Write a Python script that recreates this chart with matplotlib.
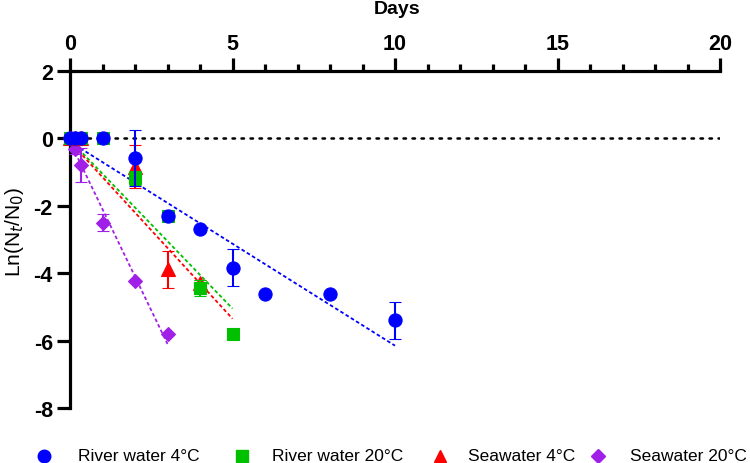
import numpy as np
import matplotlib
matplotlib.use("Agg")
import matplotlib.pyplot as plt
from matplotlib.lines import Line2D

plt.rcParams['font.family'] = ['Liberation Sans', 'DejaVu Sans']
plt.rcParams['axes.unicode_minus'] = False

# ---------------- data ----------------
series_names = ["River water 4°C", "River water 20°C", "Seawater 4°C", "Seawater 20°C"]

river4_days = [0, 0.167, 0.333, 1, 2, 3, 4, 5, 6, 8, 10]
river4_ln   = [0, 0, 0, 0, -0.57, -2.30, -2.70, -3.84, -4.63, -4.63, -5.40]
river4_sd   = [0, 0, 0, 0, 0.83, 0, 0, 0.55, 0, 0, 0.55]

river20_days = [0, 0.167, 0.333, 1, 2, 3, 4, 5]
river20_ln   = [0, 0, 0, 0, -1.17, -2.30, -4.44, -5.80]
river20_sd   = [0, 0, 0, 0, 0.20, 0, 0.25, 0]

sea4_days = [0, 0.167, 0.333, 2, 3, 4]
sea4_ln   = [0, 0, 0, -0.84, -3.88, -4.30]
sea4_sd   = [0, 0, 0, 0.64, 0.55, 0.10]

sea20_days = [0, 0.167, 0.333, 1, 2, 3]
sea20_ln   = [0, -0.30, -0.78, -2.50, -4.24, -5.80]
sea20_sd   = [0, 0.15, 0.50, 0.26, 0, 0]

# linear fits (intercept, slope, last day)
fit_intercept = [-0.10, -0.05, -0.10, -0.10]
fit_slope     = [-0.605, -1.00, -1.05, -2.00]
fit_end       = [10, 5, 5, 3]

colors  = ['#0000FF', '#00C000', '#FF0000', '#A020E8']
markers = ['o', 's', '^', 'D']
msizes  = [9.5, 9, 9.5, 7.5]
zorders = [6, 5, 4, 3]

x_ticks = [0, 5, 10, 15, 20]
y_ticks = [-8, -6, -4, -2, 0, 2]

# legend key layout (pixels)
legend_marker_x = [44, 242, 440, 598]
legend_text_x = [78, 272, 468, 630]
legend_y = 457

# ---------------- figure ----------------
W, H = 750, 464
fig = plt.figure(figsize=(7.5, 4.64), dpi=100)
ax = fig.add_axes([70/W, 1-409/H, (720-70)/W, (409-72)/H])

ax.set_xlim(0, 20)
ax.set_ylim(-8, 2)

# zero reference line
ax.plot([0, 20], [0, 0], color='black', lw=1.8, linestyle=(0, (1, 2.6)),
        dash_capstyle='round', zorder=1)

all_x = [river4_days, river20_days, sea4_days, sea20_days]
all_y = [river4_ln, river20_ln, sea4_ln, sea20_ln]
all_e = [river4_sd, river20_sd, sea4_sd, sea20_sd]

for i in range(4):
    xs = np.array([0, fit_end[i]])
    ax.plot(xs, fit_intercept[i] + fit_slope[i] * xs, color=colors[i], lw=1.3,
            linestyle=(0, (2, 1.4)), zorder=2)

for i in range(4):
    ax.errorbar(all_x[i], all_y[i], yerr=all_e[i], fmt=markers[i], color=colors[i],
                markersize=msizes[i], markeredgewidth=0.8, elinewidth=1.5,
                capsize=4.5, capthick=1.5, zorder=zorders[i],
                clip_on=False)

# axes styling
for s in ['bottom', 'right']:
    ax.spines[s].set_visible(False)
for s in ['top', 'left']:
    ax.spines[s].set_linewidth(2.3)
ax.xaxis.tick_top()
ax.set_xticks(x_ticks)
ax.set_xticks(np.arange(0, 21, 1), minor=True)
ax.set_yticks(y_ticks)
ax.tick_params(axis='both', which='major', length=9.4, width=2.3, pad=3,
               labelsize=15.5, direction='out')
ax.tick_params(axis='x', which='minor', length=5.4, width=2.3, direction='out')
for lab in ax.get_xticklabels() + ax.get_yticklabels():
    lab.set_fontweight('bold')

fig.text(397/W, 1-10/H, 'Days', ha='center', va='center',
         fontsize=14, fontweight='bold')
fig.text(14/W, 1-232/H, r'Ln(N$_t$/N$_0$)', ha='center', va='center',
         rotation=90, fontsize=15)

# legend keys
for i in range(4):
    fig.add_artist(Line2D([legend_marker_x[i]/W], [1-legend_y/H], transform=fig.transFigure,
                          linestyle='none', marker=markers[i], color=colors[i],
                          markersize=msizes[i]*0.95))
    fig.text(legend_text_x[i]/W, 1-legend_y/H, series_names[i], ha='left', va='center',
             fontsize=12.5)

fig.savefig('out.png', dpi=100)
